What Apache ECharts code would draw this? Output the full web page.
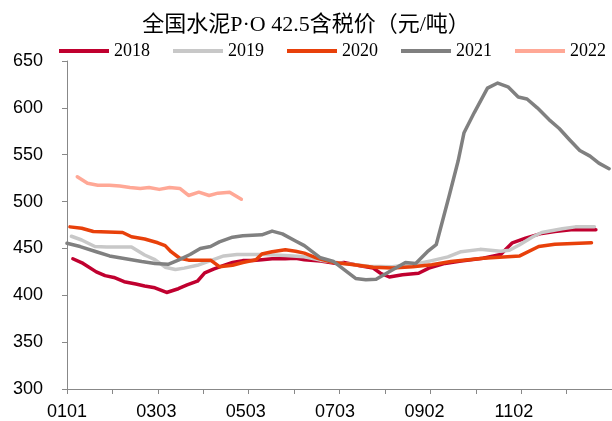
<!DOCTYPE html>
<html>
<head>
<meta charset="utf-8">
<script src="https://cdn.jsdelivr.net/npm/echarts@6/dist/echarts.min.js"></script>
<style>
  html, body { margin: 0; padding: 0; background: #fff; }
  #chart { width: 612px; height: 421px; }
</style>
</head>
<body>
<div id="chart"></div>
<script>
// x = day of year (0 = Jan 1), y = price (yuan/ton)
const dateLabels = ['0101', '0303', '0503', '0703', '0902', '1102', '']
const years = ['2018', '2019', '2020', '2021', '2022']

const days2018 = [4, 11, 20, 26, 32, 39, 47, 53, 60, 68, 76, 82, 89, 94, 100, 107, 113, 120, 127, 133, 140, 149, 156, 162, 173, 184, 189, 200, 209, 214, 220, 229, 240, 247, 258, 269, 284, 296, 304, 313, 324, 333, 344, 361]
const price2018 = [439, 434, 425, 421, 419, 414.5, 412, 410, 408, 403, 407, 411, 415, 424, 428, 432, 435, 437, 437, 438, 439, 439, 439.5, 438, 436.5, 434, 435, 431.5, 429, 423.5, 419.5, 422, 423.5, 429, 434, 436.5, 439.5, 443.5, 456, 461, 466, 468, 470, 470]

const days2019 = [3, 10, 19, 27, 36, 44, 53, 60, 67, 74, 80, 89, 98, 107, 116, 134, 149, 162, 173, 189, 206, 222, 240, 249, 260, 269, 282, 296, 302, 309, 318, 324, 338, 347, 360]
const price2019 = [463, 459, 452, 451.5, 451.5, 451.5, 443, 438, 430, 427.5, 429, 432, 437, 442, 443.5, 443.5, 442.5, 441, 437.5, 434, 431, 430.5, 434, 437, 441, 446.5, 449, 447, 448, 454, 462.5, 467, 471, 473, 473]

const days2020 = [2, 10, 18, 38, 44, 53, 62, 67, 71, 77, 83, 98, 104, 113, 120, 129, 133, 140, 149, 156, 162, 171, 182, 196, 209, 222, 236, 249, 262, 284, 309, 322, 333, 358]
const price2020 = [473, 471.5, 468, 467, 462.5, 460, 456, 453, 446.5, 439.5, 437.5, 437.5, 430.5, 432, 435, 438, 444, 446.5, 448.5, 447, 445, 439.5, 435, 432.5, 430, 429, 430.5, 432.5, 436, 439.5, 442, 452, 454.5, 456]

const days2021 = [0, 9, 20, 29, 40, 51, 60, 69, 76, 84, 91, 98, 104, 113, 120, 133, 140, 147, 156, 162, 173, 182, 197, 204, 211, 222, 231, 238, 246, 252, 261, 267, 271, 278, 287, 294, 301, 308, 314, 321, 329, 336, 343, 350, 357, 363, 370]
const price2021 = [455.5, 452, 446.5, 442, 439, 436, 434, 433, 437.5, 443.5, 450, 452, 457, 462, 463.5, 464.5, 468.5, 465.5, 458, 453, 440, 436, 418, 416.5, 417, 427, 435, 434, 446.5, 454, 507, 543.5, 573.5, 595, 621, 626.5, 622.5, 611.5, 609.5, 600, 587.5, 578, 566, 554.5, 548.5, 541, 535]

const days2022 = [7, 14, 21, 29, 36, 43, 50, 56, 63, 70, 77, 83, 90, 97, 103, 111, 119]
const price2022 = [526.5, 519.5, 517.5, 517.5, 516.5, 515, 514, 515, 513, 515, 514, 506.5, 510, 506.5, 509, 510, 502.5]

const colors = ['#C0002F', '#C8C8C8', '#E8400A', '#808080', '#FFA896']
const allDays = [days2018, days2019, days2020, days2021, days2022]
const allPrices = [price2018, price2019, price2020, price2021, price2022]

const myChart = echarts.init(document.getElementById('chart'))

const series = years.map((name, i) => ({
  name: name,
  type: 'line',
  xAxisIndex: 0,
  data: allDays[i].map((d, j) => [d, allPrices[i][j]]),
  showSymbol: false,
  symbol: 'none',
  lineStyle: { color: colors[i], width: 3.5, cap: 'round', join: 'round' },
  itemStyle: { color: colors[i] }
}))

const labelFont = {
  fontFamily: '"Liberation Sans", Arial, sans-serif',
  fontSize: 18,
  color: '#000'
}

myChart.setOption({
  animation: false,
  title: {
    text: '全国水泥P·O 42.5含税价（元/吨）',
    left: 'center',
    top: 9,
    textStyle: {
      fontFamily: '"Liberation Serif", "Noto Sans CJK SC", serif',
      fontSize: 22,
      fontWeight: 'normal',
      color: '#000'
    }
  },
  legend: {
    data: years,
    left: 59,
    top: 42,
    padding: 0,
    width: 560,
    icon: 'rect',
    itemWidth: 50,
    itemHeight: 4,
    itemGap: 23,
    textStyle: {
      fontFamily: '"Liberation Serif", serif',
      fontSize: 18,
      color: '#000'
    }
  },
  grid: {
    left: 67,
    right: -13,
    top: 61,
    bottom: 31
  },
  xAxis: [
    {
      // tick marks every 31 days
      type: 'value',
      min: 0,
      max: 372,
      interval: 31,
      axisLine: { show: true, lineStyle: { color: '#888', width: 1 } },
      axisTick: { show: true, inside: false, length: 5, lineStyle: { color: '#888' } },
      splitLine: { show: false },
      axisLabel: { show: false }
    },
    {
      // date labels every 61 days
      type: 'value',
      position: 'bottom',
      min: 0,
      max: 372,
      interval: 61,
      axisLine: { show: false },
      axisTick: { show: false },
      splitLine: { show: false },
      axisLabel: Object.assign({
        margin: 14,
        showMaxLabel: false,
        formatter: function (value) {
          return dateLabels[Math.round(value / 61)] || ''
        }
      }, labelFont)
    }
  ],
  yAxis: {
    type: 'value',
    min: 300,
    max: 650,
    interval: 50,
    axisLine: { show: true, lineStyle: { color: '#888', width: 1 } },
    axisTick: { show: true, inside: false, length: 5, lineStyle: { color: '#888' } },
    splitLine: { show: false },
    axisLabel: Object.assign({ margin: 24 }, labelFont)
  },
  series: series
})
</script>
</body>
</html>
